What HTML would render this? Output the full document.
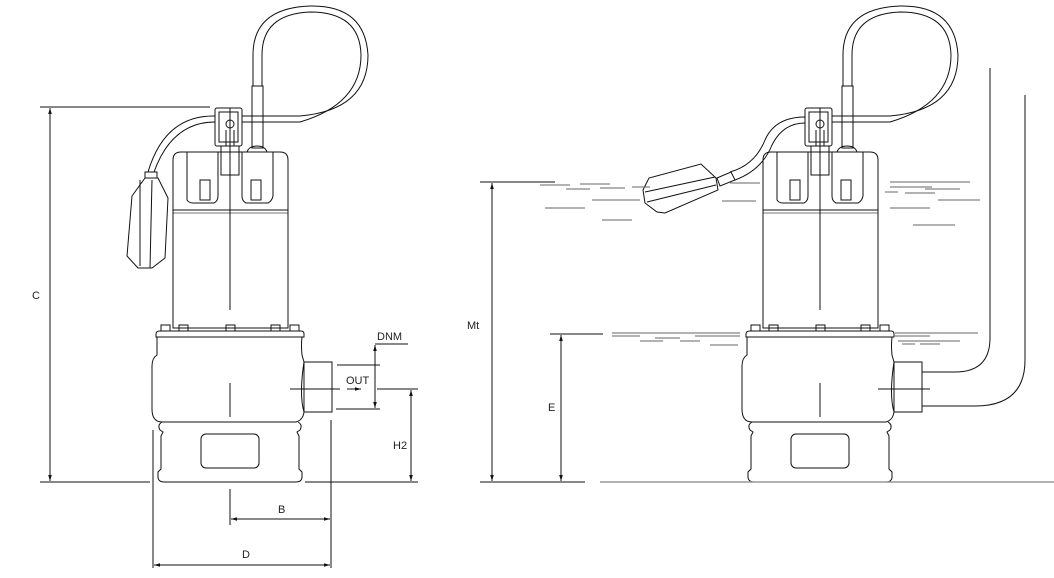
<!DOCTYPE html>
<html><head><meta charset="utf-8"><style>
html,body{margin:0;padding:0;background:#fff;}
svg{display:block;}
text{font-family:"Liberation Sans",sans-serif;font-size:11px;fill:#222;stroke:none;}
</style></head><body>
<svg width="1054" height="578" viewBox="0 0 1054 578" xmlns="http://www.w3.org/2000/svg" fill="none" stroke="#111" stroke-width="1">
<defs>
<marker id="ar" viewBox="0 0 10 10" refX="10" refY="5" markerWidth="8" markerHeight="6" orient="auto-start-reverse"><path d="M0,2 L10,5 L0,8 Z" fill="#111" stroke="none"/></marker>
<g id="pump">
  <rect x="252" y="86" width="11" height="62"/>
  <path d="M247,152 Q249,146 257,146 Q265,146 267,152"/>
  <rect x="215" y="108" width="27" height="38" rx="2"/>
  <rect x="219" y="112" width="19" height="30"/>
  <circle cx="230" cy="124" r="4"/>
  <line x1="226" y1="130" x2="226" y2="146"/><line x1="234" y1="130" x2="234" y2="146"/>
  <rect x="221" y="146" width="18" height="29"/>
  <path d="M173,210 L173,160 Q173,152 181,152 L280,152 Q288,152 288,160 L288,210 Z"/>
  <path d="M187,152 L187,200 Q189,203 193,203 L214,203 Q218,201 218,196 L218,152"/>
  <path d="M242,152 L242,196 Q242,201 246,203 L268,203 Q272,201 273,196 L273,152"/>
  <rect x="200" y="180" width="10" height="20"/><rect x="251" y="180" width="10" height="20"/>
  <line x1="173" y1="213" x2="288" y2="213" stroke="#777"/>
  <rect x="173" y="210" width="115" height="118"/>
  <line x1="230" y1="108" x2="230" y2="310"/>
  <rect x="161" y="325" width="9" height="6"/><rect x="179" y="325" width="9" height="6"/><rect x="226" y="325" width="9" height="6"/><rect x="271" y="325" width="9" height="6"/><rect x="290" y="325" width="9" height="6"/>
  <path d="M160,331 L301,331 Q304,331 304,334 L304,337 L156,337 L156,334 Q156,331 160,331 Z"/>
  <path d="M157,337 L157,355 Q152,358 152,366 L152,409 Q152,422 162,422 L296,422 Q303,420 304,412 Q299,395 304,362 L302,355 Q301,345 302,337"/>
  <rect x="304" y="362" width="28" height="50"/>
  <line x1="230" y1="383" x2="230" y2="417"/>
  <line x1="290" y1="389" x2="340" y2="389"/>
  <path d="M162,422 Q157,425 160,430 L163,432 L161,436 L161,469 L158,472 L158,478 Q159,482 164,482 L296,482 Q301,482 302,478 L302,472 L299,469 L299,436 L297,432 L300,430 Q303,425 298,422"/>
  <rect x="201" y="434" width="58" height="34" rx="5"/>
</g>
</defs>

<use href="#pump"/>
<path d="M253,86 L253,55 Q253,8 310,6 Q365,5 368,55 Q368,110 300,116 L242,116" />
<path d="M262,86 L262,55 Q262,14 310,12 Q360,12 361,55 Q361,104 300,122 L242,122" />
<path d="M215,116 Q165,115 148,172"/>
<path d="M215,122 Q172,122 154,172"/>
<path d="M145,172 L157,172 L157,178 L145,178 Z"/>
<path d="M132,196 L145,178 L158,178 L168,198 L165,258 L152,268 L138,268 L127,256 Z"/>
<line x1="140" y1="180" x2="140" y2="266"/><line x1="152" y1="180" x2="150" y2="268"/>

<line x1="40" y1="107" x2="210" y2="107"/>
<line x1="40" y1="482" x2="150" y2="482"/>
<line x1="50" y1="108" x2="50" y2="481" marker-start="url(#ar)" marker-end="url(#ar)"/>
<text x="32" y="299">C</text>
<line x1="153" y1="430" x2="153" y2="568"/>
<line x1="331" y1="420" x2="331" y2="568"/>
<line x1="230" y1="489" x2="230" y2="525"/>
<line x1="231" y1="519" x2="330" y2="519" marker-start="url(#ar)" marker-end="url(#ar)"/>
<text x="278" y="513">B</text>
<line x1="154" y1="565" x2="330" y2="565" marker-start="url(#ar)" marker-end="url(#ar)"/>
<text x="242" y="558">D</text>
<line x1="305" y1="482" x2="418" y2="482"/>
<line x1="377" y1="389" x2="418" y2="389"/>
<line x1="411" y1="390" x2="411" y2="481" marker-start="url(#ar)" marker-end="url(#ar)"/>
<text x="393" y="449">H2</text>
<line x1="337" y1="365" x2="380" y2="365"/>
<line x1="336" y1="409" x2="380" y2="409"/>
<line x1="375" y1="344" x2="408" y2="344"/>
<line x1="375" y1="345" x2="375" y2="408" marker-start="url(#ar)" marker-end="url(#ar)"/>
<text x="377" y="340">DNM</text>
<text x="346" y="384">OUT</text>
<line x1="347" y1="389" x2="361" y2="389" marker-end="url(#ar)"/>

<use href="#pump" transform="translate(590,0)"/>
<path d="M843,86 L843,55 Q843,8 900,6 Q955,5 958,55 Q958,110 890,116 L832,116"/>
<path d="M852,86 L852,55 Q852,14 900,12 Q950,12 951,55 Q951,104 890,122 L832,122"/>
<path d="M805,117 Q775,117 765,140 Q755,165 730,172"/>
<path d="M805,123 Q783,123 772,145 Q762,170 735,180"/>
<path d="M717,178 L731,172 L735,180 L720,186 Z"/>
<path d="M643,190 L649,178 L701,164 L716,178 L718,190 L665,213 L657,212 L645,203 Z"/>
<line x1="645" y1="192" x2="715" y2="177"/><line x1="647" y1="202" x2="716" y2="185"/>

<path d="M990,68 L990,338 Q990,372 955,372 L922,372"/>
<path d="M1025,95 L1025,360 Q1025,406 975,406 L922,406"/>
<line x1="878" y1="389" x2="928" y2="389"/>

<line x1="600" y1="482" x2="1054" y2="482" stroke="#999" stroke-width="1.5"/>

<g stroke="#666">
<line x1="540" y1="185" x2="570" y2="185"/><line x1="580" y1="184" x2="610" y2="184"/>
<line x1="566" y1="189" x2="590" y2="189"/><line x1="600" y1="188" x2="625" y2="188"/><line x1="632" y1="187" x2="650" y2="187"/>
<line x1="592" y1="200" x2="640" y2="200"/><line x1="545" y1="208" x2="585" y2="208"/><line x1="602" y1="220" x2="632" y2="220"/>
<line x1="730" y1="183" x2="760" y2="183"/><line x1="722" y1="201" x2="756" y2="201"/>
<line x1="890" y1="182" x2="970" y2="182"/><line x1="890" y1="187" x2="932" y2="187"/><line x1="925" y1="189" x2="960" y2="189"/>
<line x1="885" y1="192" x2="898" y2="192"/><line x1="905" y1="193" x2="935" y2="193"/>
<line x1="938" y1="200" x2="980" y2="200"/><line x1="890" y1="208" x2="930" y2="208"/><line x1="913" y1="225" x2="955" y2="225"/>
<line x1="612" y1="333" x2="740" y2="333"/><line x1="612" y1="336" x2="640" y2="336"/><line x1="655" y1="338" x2="680" y2="338"/>
<line x1="640" y1="341" x2="663" y2="341"/><line x1="680" y1="341" x2="700" y2="341"/><line x1="695" y1="336" x2="740" y2="336"/><line x1="710" y1="345" x2="738" y2="345"/>
<line x1="895" y1="333" x2="978" y2="333"/><line x1="895" y1="336" x2="930" y2="336"/><line x1="898" y1="341" x2="960" y2="341"/><line x1="902" y1="344" x2="915" y2="344"/><line x1="920" y1="344" x2="940" y2="344"/>
</g>

<line x1="480" y1="182" x2="555" y2="182"/>
<line x1="480" y1="482" x2="585" y2="482"/>
<line x1="492" y1="183" x2="492" y2="481" marker-start="url(#ar)" marker-end="url(#ar)"/>
<text x="467" y="329">Mt</text>
<line x1="550" y1="334" x2="603" y2="334"/>
<line x1="561" y1="335" x2="561" y2="481" marker-start="url(#ar)" marker-end="url(#ar)"/>
<text x="548" y="411">E</text>
</svg>
</body></html>
